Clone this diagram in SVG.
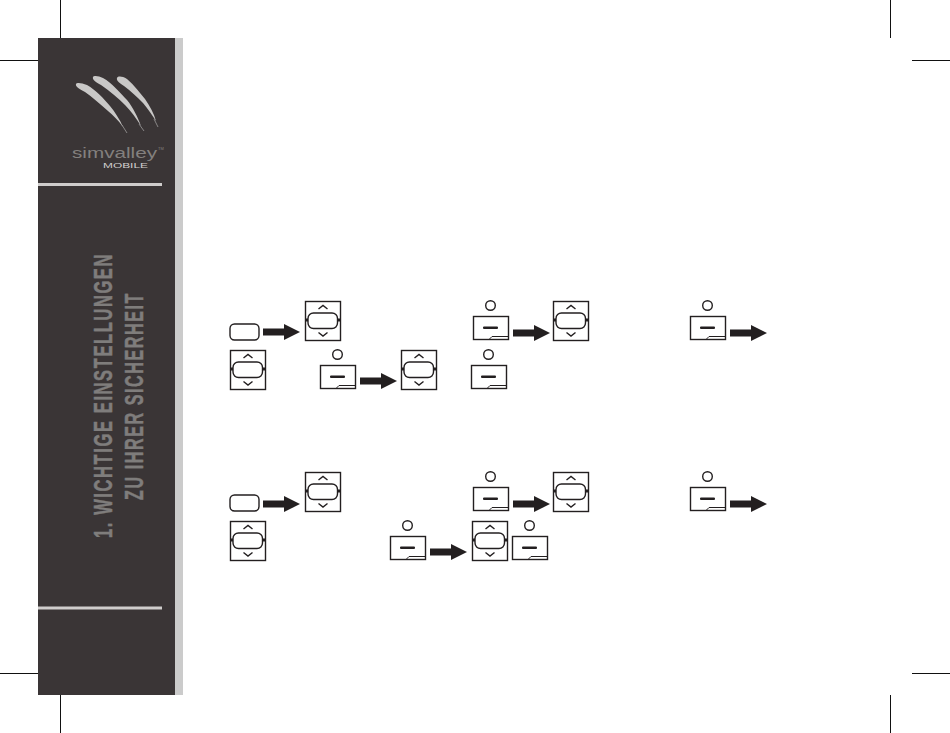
<svg xmlns="http://www.w3.org/2000/svg" width="950" height="733" viewBox="0 0 950 733">
<style>
.crop{stroke:#111;stroke-width:1;fill:none}
.bar{fill:#cfcdcc}
.claw{fill:#c9c8c7}
.tip{stroke:#a9a8a7;stroke-width:.7;fill:none}
.logo{font-family:"Liberation Sans",Arial,sans-serif;fill:#83807e}
.title{font-family:"Liberation Sans",Arial,sans-serif;font-weight:700;font-size:25px;letter-spacing:2.500px;fill:#7f7d7c;stroke:#7f7d7c;stroke-width:.5px}
.o{fill:#fff;stroke:#231f20;stroke-width:1.4}
.t{fill:none;stroke:#231f20;stroke-width:1.4}
.arrow{fill:#231f20}
</style>
<defs>
<g id="dpad">
<rect class="o" x="0.500" y="0.500" width="35" height="39"/>
<path d="M1 17.500h2.500v3H1zM32.500 17.500H35v3h-2.500z" fill="#231f20"/>
<rect class="o" x="3" y="12" width="29.500" height="15.500" rx="5.500"/>
<path class="t" d="M13.500 8 18 4.500 22.500 8M13.500 31.500 18 35 22.500 31.500"/>
</g>
<g id="softkey">
<circle class="o" cx="17.500" cy="-10.500" r="4.800"/>
<rect class="o" x="0.500" y="0.500" width="35" height="23"/>
<rect x="10" y="10.500" width="15" height="2.400" rx="1" fill="#231f20"/>
<path d="M16 23.500 19 20.500H35.500" class="t" style="stroke-width:1"/>
</g>
<path id="arr" class="arrow" d="M0-3.500H21V-8L37 0 21 8V3.500H0z"/>
</defs>
<g id="crop-marks">
<path class="crop" d="M60.500 0V38M60.500 695V733M890.500 0V38M890.500 695V733M0 60.500H38M0 673.500H38M912 60.500H950M912 673.500H950"/>
</g>
<g id="sidebar">
<rect x="38" y="38" width="137" height="657" fill="#3a3536"/>
<rect x="175" y="38" width="8" height="657" fill="#cbcbcb"/>
<rect class="bar" x="38" y="183" width="124" height="3"/>
<rect class="bar" x="38" y="606.500" width="124" height="3"/>
</g>
<g id="logo">
<path class="claw" d="M76 84C77 82 82 83 87 85 96 90 104 99 110 106 115 112 120 120 123 127 118 120 113 115 108 111 100 104 92 97 85 92 80 89 75 87 76 84Z"/>
<path class="claw" d="M93 77C94 75 99 76 103 78 112 83 120 93 127 100 133 107 138 118 141 126 136 118 131 111 125 105 118 98 110 91 101 85 96 82 92 80 93 77Z"/>
<path class="claw" d="M117 78C118 76 122 76 127 79 134 85 140 93 145 99 150 106 154 114 156 121 152 115 148 109 143 103 137 97 131 91 124 86 120 83 116 81 117 78Z"/>
<path class="tip" d="M122 125 127 133M139 124 144 131M154 119 158 127"/>
<text class="logo" x="72" y="158" font-size="15.500" textLength="85" lengthAdjust="spacingAndGlyphs">simvalley</text>
<text class="logo" x="158" y="150" font-size="4">TM</text>
<text class="logo" x="103" y="167.500" font-size="7" textLength="45" lengthAdjust="spacingAndGlyphs" style="fill:#d0cfce">MOBILE</text>
</g>
<g id="title">
<text class="title" transform="translate(112 538) rotate(-90)" textLength="285" lengthAdjust="spacingAndGlyphs">1. WICHTIGE EINSTELLUNGEN</text>
<text class="title" transform="translate(143 500) rotate(-90)" textLength="208" lengthAdjust="spacingAndGlyphs">ZU IHRER SICHERHEIT</text>
</g>
<g id="connectors">
<use href="#arr" x="263" y="332"/>
<use href="#arr" x="513" y="333"/>
<use href="#arr" x="730" y="333"/>
<use href="#arr" x="360" y="381"/>
<use href="#arr" x="263" y="504"/>
<use href="#arr" x="513" y="504"/>
<use href="#arr" x="730" y="504"/>
<use href="#arr" x="430" y="552"/>
</g>
<g id="key-1"><rect class="o" x="230" y="324" width="29" height="16" rx="4.500"/></g>
<g id="dpad-1"><use href="#dpad" x="305" y="301"/></g>
<g id="soft-1"><use href="#softkey" x="473" y="316"/></g>
<g id="dpad-2"><use href="#dpad" x="553" y="301"/></g>
<g id="soft-2"><use href="#softkey" x="690" y="316"/></g>
<g id="dpad-3"><use href="#dpad" x="230" y="350"/></g>
<g id="soft-3"><use href="#softkey" x="320" y="365"/></g>
<g id="dpad-4"><use href="#dpad" x="401" y="350"/></g>
<g id="soft-4"><use href="#softkey" x="471" y="365"/></g>
<g id="key-2"><rect class="o" x="230" y="495" width="29" height="16" rx="4.500"/></g>
<g id="dpad-5"><use href="#dpad" x="305" y="472"/></g>
<g id="soft-5"><use href="#softkey" x="473" y="487"/></g>
<g id="dpad-6"><use href="#dpad" x="553" y="472"/></g>
<g id="soft-6"><use href="#softkey" x="690" y="487"/></g>
<g id="dpad-7"><use href="#dpad" x="230" y="521"/></g>
<g id="soft-7"><use href="#softkey" x="390" y="536"/></g>
<g id="dpad-8"><use href="#dpad" x="472" y="521"/></g>
<g id="soft-8"><use href="#softkey" x="512" y="536"/></g>
</svg>
